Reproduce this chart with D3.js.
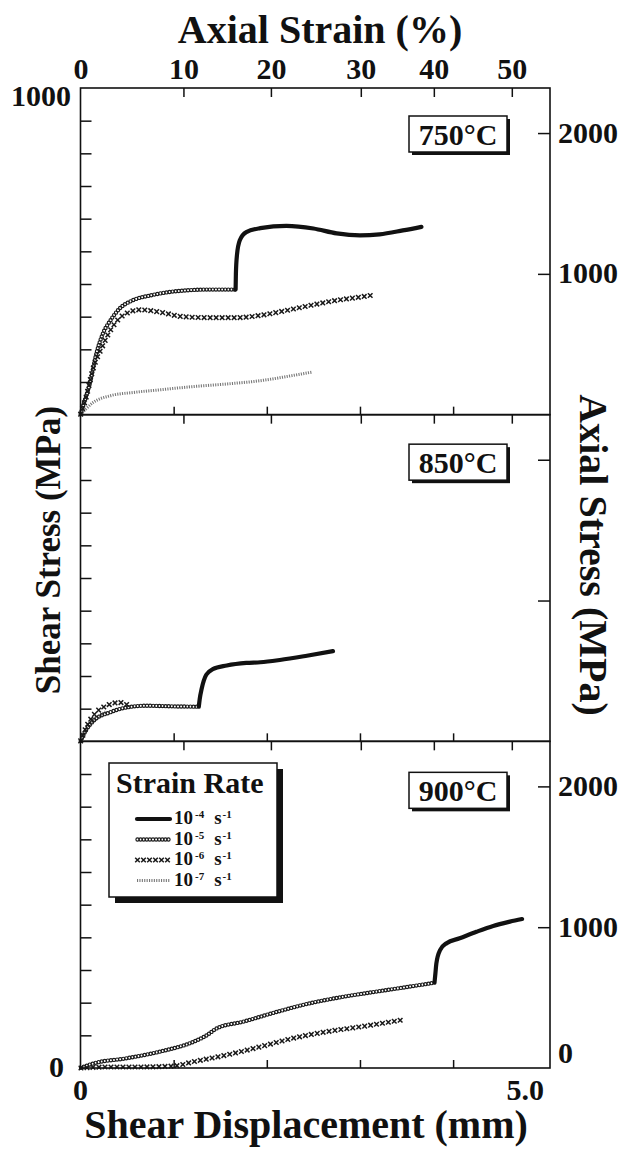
<!DOCTYPE html>
<html><head><meta charset="utf-8">
<script src="https://cdn.jsdelivr.net/npm/d3@7/dist/d3.min.js"></script>
<style>
body{margin:0;background:#fff}
svg text{font-family:"Liberation Serif","Times New Roman",serif;font-weight:bold;fill:#111}
</style>
</head><body>
<svg id="chart" width="634" height="1155"></svg>
<script>
// ---------------- data ----------------
const panelLabels = ["750°C", "850°C", "900°C"];
const rateExponents = ["-4", "-5", "-6", "-7"];
const dispTicks = [1, 2, 3, 4];
const strainTicks = [0, 10, 20, 30, 40, 50];
// shear displacement (mm) at which each axial-strain tick falls
const strainTickDisp = [0, 1.105, 2.044, 3.009, 3.793, 4.63];
const shearTicks = [100, 200, 300, 400, 500, 600, 700, 800, 900];
const axialTicks = [1000, 2000];
const shearMax = 1000;
const axialMax = 2320;
const dispMax = 5.04;

// [shear displacement mm, shear stress MPa]
const p750_r4 = [[1.665,383],[1.668,430],[1.68,490],[1.71,534],[1.78,559],[1.93,571],[2.21,578],[2.5,570],[2.75,555],[3.0,549],[3.21,552],[3.46,564],[3.66,575]];
const p750_r5 = [[0,0],[0.03,30],[0.1,95],[0.17,187],[0.24,248],[0.32,288],[0.42,325],[0.56,350],[0.75,365],[1.03,378],[1.39,383],[1.665,383]];
const p750_r6 = [[0,0],[0.05,43],[0.14,145],[0.23,206],[0.32,258],[0.41,293],[0.5,311],[0.64,321],[0.85,314],[1.1,300],[1.39,297],[1.68,297],[1.93,304],[2.21,319],[2.46,334],[2.75,350],[3.0,360],[3.16,367]];
const p750_r7 = [[0,0],[0.05,15],[0.14,38],[0.32,58],[0.57,68],[0.85,76],[1.21,86],[1.57,94],[1.93,104],[2.28,120],[2.48,130]];

const p850_r4 = [[1.27,106],[1.28,130],[1.3,160],[1.35,204],[1.42,221],[1.57,232],[1.78,240],[1.93,242],[2.14,249],[2.43,262],[2.71,276]];
const p850_r5 = [[0,0],[0.05,30],[0.14,63],[0.32,89],[0.5,104],[0.71,109],[1.0,107],[1.27,106]];
const p850_r6 = [[0,0],[0.07,48],[0.17,89],[0.28,109],[0.42,119],[0.5,112]];
const p850_r7 = [[0,0],[0.08,40],[0.18,72],[0.28,92]];

const p900_r4 = [[3.8,261],[3.81,290],[3.82,320],[3.86,361],[3.93,382],[4.07,397],[4.25,417],[4.43,435],[4.61,448],[4.74,456]];
const p900_r5 = [[0,0],[0.14,14],[0.5,30],[0.85,50],[1.21,80],[1.36,101],[1.46,121],[1.75,142],[2.11,172],[2.46,198],[2.82,218],[3.18,234],[3.53,249],[3.8,261]];
const p900_r6 = [[0,0],[0.3,3],[0.6,3],[1.0,6],[1.21,19],[1.57,40],[1.93,65],[2.28,91],[2.64,111],[3.0,126],[3.45,147]];

const panelSeries = [
  {r4: p750_r4, r5: p750_r5, r6: p750_r6, r7: p750_r7},
  {r4: p850_r4, r5: p850_r5, r6: p850_r6, r7: p850_r7},
  {r4: p900_r4, r5: p900_r5, r6: p900_r6, r7: null}
];

// ---------------- layout ----------------
const svg = d3.select("#chart");
const L = 80.5, R = 550, T = 88, B = 1068;
const PH = (B - T) / 3;
const x = d3.scaleLinear().domain([0, dispMax]).range([L, R]);
const strainX = d3.scaleLinear().domain(strainTicks).range(strainTickDisp.map(d => x(d)));

function addText(g, txt, px, py, size, anchor) {
  return g.append("text").attr("x", px).attr("y", py)
    .attr("font-size", size).attr("text-anchor", anchor || "middle").text(txt);
}

function pointsAlong(g, dstr, step) {
  const p = g.append("path").attr("d", dstr).attr("fill", "none").attr("stroke", "none");
  const len = p.node().getTotalLength();
  const pts = d3.range(0.5, len, step).map(l => p.node().getPointAtLength(l));
  p.remove();
  return pts;
}

// style renderers
function drawSeries(g, pts, style, curve) {
  const line = d3.line().x(d => d[0]).y(d => d[1]).curve(curve || d3.curveMonotoneX);
  const dstr = line(pts);
  if (style === "r4") {
    g.append("path").attr("d", dstr).attr("fill", "none").attr("stroke", "#111")
      .attr("stroke-width", 4.2).attr("stroke-linecap", "round").attr("stroke-linejoin", "round");
  } else if (style === "r5") {
    const marks = pointsAlong(g, dstr, 3.1);
    g.append("g").selectAll("circle").data(marks).join("circle")
      .attr("cx", m => m.x).attr("cy", m => m.y).attr("r", 1.6)
      .attr("fill", "none").attr("stroke", "#1a1a1a").attr("stroke-width", 1.15);
  } else if (style === "r6") {
    const marks = pointsAlong(g, dstr, 6);
    const s = 2.3;
    g.append("g").selectAll("path").data(marks).join("path")
      .attr("d", m => `M${m.x - s},${m.y - s}L${m.x + s},${m.y + s}M${m.x - s},${m.y + s}L${m.x + s},${m.y - s}`)
      .attr("stroke", "#1a1a1a").attr("stroke-width", 1.5).attr("fill", "none");
  } else if (style === "r7") {
    g.append("path").attr("d", dstr).attr("fill", "none").attr("stroke", "#777").attr("stroke-width", 3)
      .attr("stroke-dasharray", "1.1,1.3");
  }
}

panelSeries.forEach((ser, i) => {
  const top = T + i * PH, bot = T + (i + 1) * PH;
  const y = d3.scaleLinear().domain([0, shearMax]).range([bot, top]);
  const yA = d3.scaleLinear().domain([0, axialMax]).range([bot, top]);
  const g = svg.append("g");

  // curves
  const toPx = arr => arr.map(d => [x(d[0]), y(d[1])]);
  ["r7", "r6", "r5", "r4"].forEach(k => { if (ser[k]) drawSeries(g, toPx(ser[k]), k); });

  // left ticks (inward)
  g.append("g").attr("transform", `translate(${L},0)`)
    .call(d3.axisLeft(y).tickValues(shearTicks).tickSize(-11).tickFormat(""))
    .call(a => a.select(".domain").remove())
    .selectAll("line").attr("stroke", "#111").attr("stroke-width", 1.5);

  // right ticks (inward) + labels
  const rAxis = g.append("g").attr("transform", `translate(${R},0)`)
    .call(d3.axisRight(yA).tickValues(axialTicks).tickSize(-12).tickPadding(8)
      .tickFormat(i === 1 ? "" : d3.format("d")))
    .call(a => a.select(".domain").remove());
  rAxis.selectAll("line").attr("stroke", "#111").attr("stroke-width", 1.5);
  rAxis.selectAll("text").attr("font-size", 30).attr("fill", "#111").attr("dy", "0.3em")
    .attr("font-family", '"Liberation Serif",serif').attr("font-weight", "bold");

  // top strain ticks (inward)
  const tAxis = g.append("g").attr("transform", `translate(0,${top})`)
    .call(d3.axisTop(strainX).tickValues(i === 0 ? strainTicks : strainTicks.slice(1))
      .tickSize(-9).tickPadding(9).tickFormat(i === 0 ? d3.format("d") : ""))
    .call(a => a.select(".domain").remove());
  tAxis.selectAll("line").attr("stroke", "#111").attr("stroke-width", 1.5)
    .filter(d => d === 0).remove();
  tAxis.selectAll("text").attr("font-size", 30).attr("fill", "#111")
    .attr("font-family", '"Liberation Serif",serif').attr("font-weight", "bold");

  // bottom displacement ticks (inward)
  g.append("g").attr("transform", `translate(0,${bot})`)
    .call(d3.axisBottom(x).tickValues(dispTicks).tickSize(-8).tickFormat(""))
    .call(a => a.select(".domain").remove())
    .selectAll("line").attr("stroke", "#111").attr("stroke-width", 1.5);

  // frame
  g.append("rect").attr("x", L).attr("y", top).attr("width", R - L).attr("height", PH)
    .attr("fill", "none").attr("stroke", "#111").attr("stroke-width", 1.6);

  // panel label box with shadow
  const bx = 409, by = top + 28 + i * 1.5, bw = 98, bh = 36;
  g.append("rect").attr("x", bx + 3).attr("y", by + 3).attr("width", bw).attr("height", bh).attr("fill", "#111");
  g.append("rect").attr("x", bx).attr("y", by).attr("width", bw).attr("height", bh)
    .attr("fill", "#fff").attr("stroke", "#111").attr("stroke-width", 1.5);
  addText(g, panelLabels[i], bx + bw / 2, by + 29, 30);

  if (i === 0) addText(g, "1000", 71, top + 18, 30, "end");
  if (i === 2) {
    addText(g, "0", 64, bot + 9, 30, "end");
    addText(g, "0", R + 8, bot - 5, 30, "start");
  }
});

// bottom axis labels
addText(svg, "0", x(0), 1100, 30);
addText(svg, "5.0", x(5) - 21, 1100, 30);

// axis titles
addText(svg, "Axial Strain (%)", 320, 43, 40);
addText(svg, "Shear Displacement (mm)", 306, 1138, 40);
svg.append("text").attr("transform", "translate(48,550) rotate(-90)")
  .attr("text-anchor", "middle").attr("dominant-baseline", "central").attr("font-size", 35)
  .text("Shear Stress (MPa)");
svg.append("text").attr("transform", "translate(593,555) rotate(90)")
  .attr("text-anchor", "middle").attr("dominant-baseline", "central").attr("font-size", 40)
  .text("Axial Stress (MPa)");

// legend
const lg = svg.append("g");
const lx = 109, ly = 763, lw = 168, lh = 134;
lg.append("rect").attr("x", lx + 6).attr("y", ly + 6).attr("width", lw).attr("height", lh).attr("fill", "#111");
lg.append("rect").attr("x", lx).attr("y", ly).attr("width", lw).attr("height", lh)
  .attr("fill", "#fff").attr("stroke", "#111").attr("stroke-width", 1.5);
addText(lg, "Strain Rate", lx + 7, ly + 30, 30, "start");
const legendStyles = ["r4", "r5", "r6", "r7"];
rateExponents.forEach((e, k) => {
  const base = ly + 61 + k * 20.5;
  drawSeries(lg, [[lx + 28, base - 5], [lx + 61, base - 5]], legendStyles[k], d3.curveLinear);
  const t = lg.append("text").attr("x", lx + 65).attr("y", base).attr("font-size", 19);
  t.append("tspan").text("10");
  t.append("tspan").attr("font-size", 11).attr("dy", -6).attr("dx", 2).text(e);
  t.append("tspan").attr("font-size", 19).attr("dy", 6).attr("dx", 10).text("s");
  t.append("tspan").attr("font-size", 11).attr("dy", -6).attr("dx", 1).text("-1");
});
</script>
</body></html>
